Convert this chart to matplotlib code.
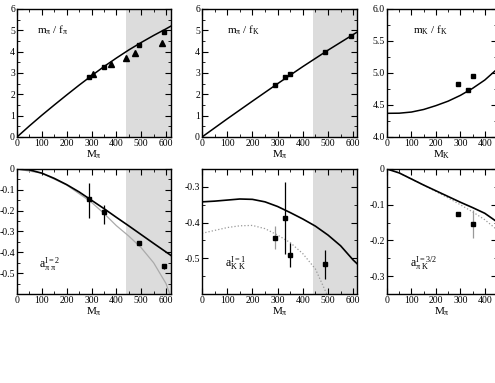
import matplotlib
matplotlib.use("Agg")
import matplotlib.pyplot as plt
from matplotlib.ticker import MultipleLocator

plt.rcParams['font.family'] = ['Liberation Serif', 'DejaVu Serif']
plt.rcParams['mathtext.fontset'] = 'stix'
plt.rcParams['mathtext.default'] = 'regular'

# ---------------- data ----------------
# panel 1: m_pi / f_pi
p1_sq_x = [290, 350, 490, 590]
p1_sq_y = [2.82, 3.27, 4.33, 4.92]
p1_tri_x = [305, 380, 440, 475, 585]
p1_tri_y = [2.95, 3.42, 3.70, 3.92, 4.42]
p1_curve_x = [0, 50, 100, 150, 200, 250, 300, 350, 400, 450, 500, 550, 600, 620]
p1_curve_y = [0, 0.52, 1.02, 1.5, 1.97, 2.43, 2.87, 3.3, 3.7, 4.08, 4.43, 4.76, 5.07, 5.2]

# panel 2: m_pi / f_K
p2_sq_x = [290, 330, 350, 490, 590]
p2_sq_y = [2.43, 2.8, 2.93, 4.0, 4.72]
p2_curve_x = [0, 100, 200, 300, 400, 500, 620]
p2_curve_y = [0, 0.85, 1.68, 2.5, 3.3, 4.07, 4.95]

# panel 3: m_K / f_K
p3_sq_x = [290, 330, 350]
p3_sq_y = [4.83, 4.73, 4.96]
p3_curve_x = [0, 50, 100, 150, 200, 250, 300, 350, 400, 450]
p3_curve_y = [4.37, 4.372, 4.39, 4.43, 4.49, 4.56, 4.65, 4.76, 4.89, 5.06]

# panel 4: a_pipi I=2
p4_x = [290, 350, 490, 590]
p4_y = [-0.145, -0.205, -0.354, -0.466]
p4_err_lo = [0.09, 0.06, 0.01, 0.012]
p4_err_hi = [0.08, 0.03, 0.01, 0.012]
p4_curve_x = [0, 50, 100, 150, 200, 250, 300, 350, 400, 450, 500, 550, 620]
p4_curve_y = [0, -0.004, -0.02, -0.045, -0.075, -0.11, -0.15, -0.19, -0.232, -0.273, -0.315, -0.357, -0.415]
p4_gray_x = [0, 100, 200, 300, 350, 400, 450, 500, 550, 600, 615]
p4_gray_y = [0, -0.02, -0.077, -0.16, -0.213, -0.272, -0.322, -0.378, -0.45, -0.55, -0.6]

# panel 5: a_KK I=1
p5_x = [290, 330, 350, 490]
p5_y = [-0.442, -0.387, -0.491, -0.517]
p5_err = [0.032, 0.1, 0.033, 0.04]
p5_errcol = ['#999999', 'black', 'black', 'black']
p5_curve_x = [0, 50, 100, 150, 200, 250, 300, 350, 400, 450, 500, 550, 600, 615]
p5_curve_y = [-0.342, -0.34, -0.337, -0.334, -0.335, -0.342, -0.355, -0.372, -0.39, -0.41, -0.435, -0.465, -0.505, -0.515]
p5_dot_x = [0, 50, 100, 150, 200, 250, 300, 350, 400, 450, 495]
p5_dot_y = [-0.43, -0.422, -0.414, -0.409, -0.408, -0.417, -0.435, -0.456, -0.487, -0.53, -0.6]

# panel 6: a_piK I=3/2
p6_x = [290, 350]
p6_y = [-0.125, -0.154]
p6_err = [0.005, 0.04]
p6_errcol = ['black', '#999999']
p6_curve_x = [0, 50, 100, 150, 200, 250, 300, 350, 400, 450]
p6_curve_y = [0, -0.011, -0.028, -0.045, -0.061, -0.077, -0.093, -0.108, -0.124, -0.148]
p6_dot_x = [0, 50, 100, 150, 200, 250, 300, 350, 400, 450]
p6_dot_y = [0, -0.011, -0.028, -0.045, -0.063, -0.081, -0.1, -0.12, -0.142, -0.17]

shade_start = 440

# ---------------- figure ----------------
W, H = 495, 383
fig = plt.figure(figsize=(W / 100, H / 100), dpi=100)


def ax_px(l, t, r, b):
    return fig.add_axes([l / W, 1 - b / H, (r - l) / W, (b - t) / H])


def style(ax, xmaj, xmin, ymaj, ymin):
    ax.xaxis.set_major_locator(MultipleLocator(xmaj))
    ax.xaxis.set_minor_locator(MultipleLocator(xmin))
    ax.yaxis.set_major_locator(MultipleLocator(ymaj))
    ax.yaxis.set_minor_locator(MultipleLocator(ymin))
    ax.tick_params(which='both', direction='in', top=True, right=True, labelsize=7, pad=1.5)
    ax.tick_params(which='major', length=4, width=0.8)
    ax.tick_params(which='minor', length=2, width=0.6)
    for s in ax.spines.values():
        s.set_linewidth(1.0)


sqkw = dict(marker='s', ms=3.5, color='black', ls='none', zorder=5)

# Panel 1
ax1 = ax_px(17, 9, 171, 137)
ax1.set_xlim(0, 620)
ax1.set_ylim(0, 6)
ax1.axvspan(shade_start, 620, color='#dcdcdc', lw=0, zorder=0)
ax1.plot(p1_curve_x, p1_curve_y, color='black', lw=1.1)
ax1.plot(p1_sq_x, p1_sq_y, **sqkw)
ax1.plot(p1_tri_x, p1_tri_y, marker='^', ms=3.8, color='black', ls='none', zorder=5)
ax1.text(0.13, 0.81, r'm$_\pi$ / f$_\pi$', transform=ax1.transAxes, fontsize=8)
style(ax1, 100, 50, 1, 0.5)
ax1.set_xlabel(r'M$_\pi$', fontsize=8, labelpad=0)

# Panel 2
ax2 = ax_px(202, 9, 357, 137)
ax2.set_xlim(0, 615)
ax2.set_ylim(0, 6)
ax2.axvspan(shade_start, 615, color='#dcdcdc', lw=0, zorder=0)
ax2.plot(p2_curve_x, p2_curve_y, color='black', lw=1.1)
ax2.plot(p2_sq_x, p2_sq_y, **sqkw)
ax2.text(0.16, 0.81, r'm$_\pi$ / f$_K$', transform=ax2.transAxes, fontsize=8)
style(ax2, 100, 50, 1, 0.5)
ax2.set_xlabel(r'M$_\pi$', fontsize=8, labelpad=0)

# Panel 3
ax3 = ax_px(387, 9, 497, 137)
ax3.set_xlim(0, 450)
ax3.set_ylim(4, 6)
ax3.plot(p3_curve_x, p3_curve_y, color='black', lw=1.1)
ax3.plot(p3_sq_x, p3_sq_y, **sqkw)
ax3.text(0.24, 0.81, r'm$_K$ / f$_K$', transform=ax3.transAxes, fontsize=8)
style(ax3, 100, 50, 0.5, 0.25)
ax3.set_xlabel(r'M$_K$', fontsize=8, labelpad=0)

# Panel 4
ax4 = ax_px(17, 169, 171, 294)
ax4.set_xlim(0, 620)
ax4.set_ylim(-0.6, 0)
ax4.axvspan(shade_start, 620, color='#dcdcdc', lw=0, zorder=0)
ax4.plot(p4_gray_x, p4_gray_y, color='#aaaaaa', lw=0.9)
ax4.plot(p4_curve_x, p4_curve_y, color='black', lw=1.2)
ax4.errorbar(p4_x, p4_y, yerr=[p4_err_lo, p4_err_hi], fmt='none', ecolor='black', elinewidth=0.9, capsize=0, zorder=4)
ax4.plot(p4_x, p4_y, **sqkw)
ax4.text(0.14, 0.21, r'a$_{\pi\ \pi}^{I=2}$', transform=ax4.transAxes, fontsize=8.5)
style(ax4, 100, 50, 0.1, 0.05)
ax4.set_yticks([-0.5, -0.4, -0.3, -0.2, -0.1, 0])
ax4.set_yticklabels(['-0.5', '-0.4', '-0.3', '-0.2', '-0.1', '0'])
ax4.set_xlabel(r'M$_\pi$', fontsize=8, labelpad=0)

# Panel 5
ax5 = ax_px(202, 169, 357, 294)
ax5.set_xlim(0, 615)
ax5.set_ylim(-0.6, -0.25)
ax5.axvspan(shade_start, 615, color='#dcdcdc', lw=0, zorder=0)
ax5.plot(p5_dot_x, p5_dot_y, color='#999999', lw=0.9, ls=':')
ax5.plot(p5_curve_x, p5_curve_y, color='black', lw=1.2)
for xx, yy, ee, cc in zip(p5_x, p5_y, p5_err, p5_errcol):
    ax5.errorbar([xx], [yy], yerr=[ee], fmt='none', ecolor=cc, elinewidth=0.9, capsize=0, zorder=4)
ax5.plot(p5_x, p5_y, **sqkw)
ax5.text(0.15, 0.22, r'a$_{K\ K}^{I=1}$', transform=ax5.transAxes, fontsize=8.5)
style(ax5, 100, 50, 0.1, 0.05)
ax5.set_yticks([-0.5, -0.4, -0.3])
ax5.set_yticklabels(['-0.5', '-0.4', '-0.3'])
ax5.set_xlabel(r'M$_\pi$', fontsize=8, labelpad=0)

# Panel 6
ax6 = ax_px(387, 169, 497, 294)
ax6.set_xlim(0, 450)
ax6.set_ylim(-0.35, 0)
ax6.plot(p6_dot_x, p6_dot_y, color='#999999', lw=0.9, ls=':')
ax6.plot(p6_curve_x, p6_curve_y, color='black', lw=1.2)
for xx, yy, ee, cc in zip(p6_x, p6_y, p6_err, p6_errcol):
    ax6.errorbar([xx], [yy], yerr=[ee], fmt='none', ecolor=cc, elinewidth=0.9, capsize=0, zorder=4)
ax6.plot(p6_x, p6_y, **sqkw)
ax6.text(0.21, 0.22, r'a$_{\pi\ K}^{I=3/2}$', transform=ax6.transAxes, fontsize=8.5)
style(ax6, 100, 50, 0.1, 0.05)
ax6.set_yticks([-0.3, -0.2, -0.1, 0])
ax6.set_yticklabels(['-0.3', '-0.2', '-0.1', '0'])
ax6.set_xlabel(r'M$_\pi$', fontsize=8, labelpad=0)

fig.savefig('out.png', dpi=100)
